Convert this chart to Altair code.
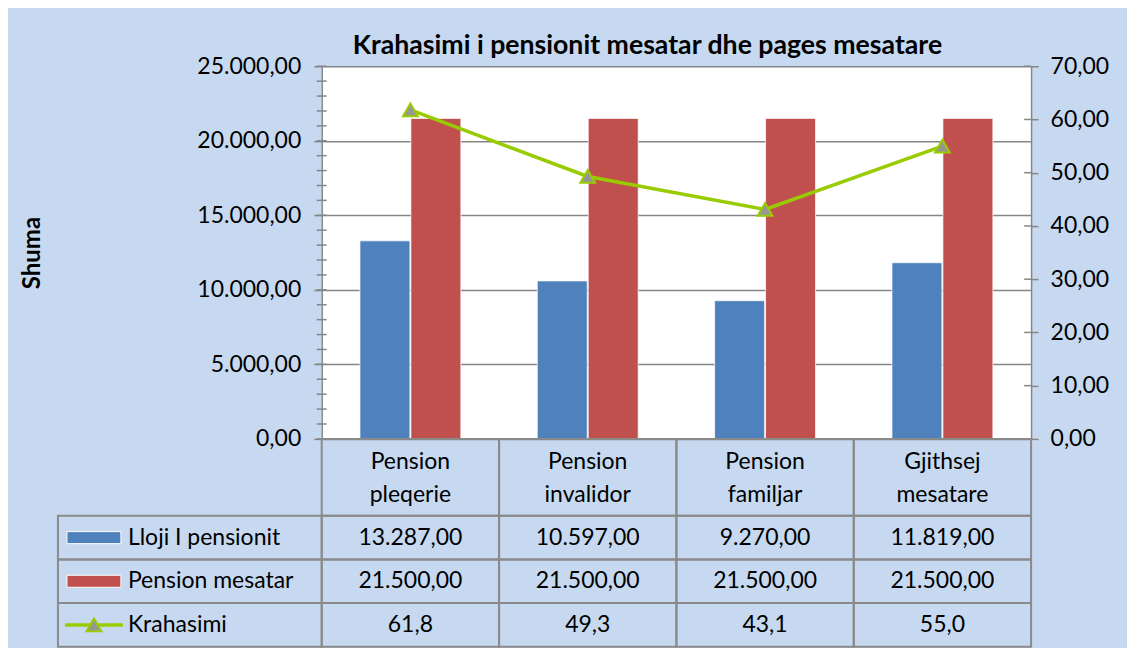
import altair as alt
import pandas as pd

categories = ["Pension pleqerie", "Pension invalidor", "Pension familjar", "Gjithsej mesatare"]
lloji = [13287.00, 10597.00, 9270.00, 11819.00]
mesatar = [21500.00, 21500.00, 21500.00, 21500.00]
krahasimi = [61.8, 49.3, 43.1, 55.0]
series = ["Lloji I pensionit", "Pension mesatar", "Krahasimi"]
decimals = [2, 2, 1]
left_ticks = [0, 5000, 10000, 15000, 20000, 25000]
left_minor = [0, 1000, 2000, 3000, 4000, 5000, 6000, 7000, 8000, 9000, 10000, 11000, 12000,
              13000, 14000, 15000, 16000, 17000, 18000, 19000, 20000, 21000, 22000, 23000, 24000, 25000]
right_ticks = [0, 10, 20, 30, 40, 50, 60, 70]
title_text = "Krahasimi i pensionit mesatar dhe pages mesatare"

BLUE = "#4F81BD"
RED = "#C0504D"
GREEN = "#99CC00"
MARK_GRAY = "#969696"
AX = "#868686"
BORDER = "#8A8A8A"
BG = "#C6D9F1"
FONT = "Lato"
FS = 23

values_by_series = [lloji, mesatar, krahasimi]
rows = []
for s_i, s in enumerate(series):
    for c_i, c in enumerate(categories):
        rows.append({"cat": c, "series": s, "value": values_by_series[s_i][c_i], "dec": decimals[s_i]})
df = pd.DataFrame(rows)

LBL = "replace(replace(replace(format(datum.value, ',.2f'), ',', '_'), '.', ','), '_', '.')"
CELL = ("replace(replace(replace(format(datum.value, datum.dec == 2 ? ',.2f' : ',.1f'), ',', '_'), "
        "'.', ','), '_', '.')")

W = 710
H = 373
LEGW = 264
HDRH = 77
ROWSH = 131

x_enc = alt.X("cat:N", sort=categories, scale=alt.Scale(paddingInner=0, paddingOuter=0), axis=None)

left_axis = alt.Axis(values=left_ticks, labelExpr=LBL, grid=True, gridColor=AX, gridWidth=1.5,
                     domainColor=AX, domainWidth=1.5, tickColor=AX, tickSize=8, tickWidth=1.5,
                     labelFont=FONT, labelFontSize=FS, labelColor="black", labelPadding=13,
                     title="Shuma", titleFont=FONT, titleFontSize=24, titleFontWeight="bold",
                     titleColor="black", titleX=-289, titleBaseline="middle")
right_axis = alt.Axis(orient="right", values=right_ticks, labelExpr=LBL, grid=False,
                      domainColor=AX, domainWidth=1.5, tickColor=AX, tickSize=7, tickWidth=1.5,
                      labelFont=FONT, labelFontSize=FS, labelColor="black", labelPadding=12,
                      title=None)
left_scale = alt.Scale(domain=[0, 25000], nice=False)
right_scale = alt.Scale(domain=[0, 70], nice=False)

bars = alt.Chart(df).transform_filter(
    alt.FieldOneOfPredicate(field="series", oneOf=series[:2])
).mark_bar(stroke="white", strokeWidth=1, strokeOpacity=0.7).encode(
    x=x_enc,
    xOffset=alt.XOffset("series:N", sort=series[:2],
                        scale=alt.Scale(paddingInner=0.02, paddingOuter=0.75)),
    y=alt.Y("value:Q", scale=left_scale, axis=left_axis),
    color=alt.Color("series:N", scale=alt.Scale(domain=series[:2], range=[BLUE, RED]), legend=None),
)

minor = alt.Chart(pd.DataFrame({"value": left_minor})).mark_rule(color=AX, strokeWidth=1.5).encode(
    x=alt.value(-5), x2=alt.value(5), y=alt.Y("value:Q", scale=left_scale, axis=left_axis)
)

kdf = df[df["series"] == series[2]]
line = alt.Chart(kdf).mark_line(color=GREEN, strokeWidth=3.5).encode(
    x=x_enc,
    y=alt.Y("value:Q", scale=right_scale, axis=right_axis),
)
rticks = alt.Chart(pd.DataFrame({"value": right_ticks})).mark_rule(color=AX, strokeWidth=1.5).encode(
    x=alt.value(W - 7), x2=alt.value(W), y=alt.Y("value:Q", scale=right_scale, axis=right_axis)
)
pts = alt.Chart(kdf).mark_point(shape="triangle-up", filled=True, fill=MARK_GRAY, stroke=GREEN,
                                strokeWidth=2, size=220, opacity=1).encode(
    x=x_enc, y=alt.Y("value:Q", scale=right_scale, axis=right_axis)
)

plot = alt.layer(
    alt.layer(bars, minor),
    alt.layer(line, rticks, pts),
).resolve_scale(y="independent").properties(
    width=W, height=H,
    view=alt.ViewBackground(fill="white", stroke=None),
    title=alt.TitleParams(title_text, font=FONT, fontSize=26.7, fontWeight="bold", color="black",
                          anchor="middle", dx=-29, offset=-4, frame="group"),
)

def spacer(w, h):
    return alt.Chart(pd.DataFrame({"a": [0]})).mark_point(opacity=0).encode(
        x=alt.value(0), y=alt.value(0)).properties(width=w, height=h)

hdr_df = pd.DataFrame({"cat": categories})
hdr_rect = alt.Chart(hdr_df).mark_rect(fillOpacity=0, stroke=BORDER, strokeWidth=2).encode(
    x=x_enc, y=alt.value(0), y2=alt.value(HDRH))
hdr_text = alt.Chart(hdr_df).mark_text(lineBreak=" ", font=FONT, fontSize=FS, lineHeight=33,
                                       baseline="middle", color="black").encode(
    x=x_enc, y=alt.value(23), text="cat:N")
hdr = alt.layer(hdr_rect, hdr_text).properties(width=W, height=HDRH)

ry = alt.Y("series:N", sort=series, scale=alt.Scale(paddingInner=0, paddingOuter=0), axis=None)

cells = alt.Chart(df).mark_rect(fillOpacity=0, stroke=BORDER, strokeWidth=2).encode(x=x_enc, y=ry)
cell_txt = alt.Chart(df).transform_calculate(label=CELL).mark_text(
    font=FONT, fontSize=FS, color="black").encode(x=x_enc, y=ry, text="label:N")
table = alt.layer(cells, cell_txt).properties(width=W, height=ROWSH)

leg_df = pd.DataFrame({"series": series})
leg_cells = alt.Chart(leg_df).mark_rect(fillOpacity=0, stroke=BORDER, strokeWidth=2).encode(
    x=alt.value(0), x2=alt.value(LEGW), y=ry)
swatch = alt.Chart(leg_df).transform_filter(
    alt.FieldOneOfPredicate(field="series", oneOf=series[:2])
).mark_bar(height=12, stroke="white", strokeWidth=1).encode(
    x=alt.value(9), x2=alt.value(63), y=ry,
    color=alt.Color("series:N", scale=alt.Scale(domain=series[:2], range=[BLUE, RED]), legend=None))
kleg = leg_df[leg_df["series"] == series[2]]
leg_line = alt.Chart(kleg).mark_rule(color=GREEN, strokeWidth=3.5).encode(
    x=alt.value(7), x2=alt.value(65), y=ry)
leg_pt = alt.Chart(kleg).mark_point(shape="triangle-up", filled=True, fill=MARK_GRAY, stroke=GREEN,
                                    strokeWidth=2, size=220, opacity=1).encode(x=alt.value(36), y=ry)
leg_txt = alt.Chart(leg_df).mark_text(align="left", font=FONT, fontSize=FS, color="black").encode(
    x=alt.value(70), y=ry, text="series:N")
legcol = alt.layer(leg_cells, swatch, leg_line, leg_pt, leg_txt).properties(width=LEGW, height=ROWSH)

chart = alt.concat(
    spacer(LEGW, H), plot,
    spacer(LEGW, HDRH), hdr,
    legcol, table,
    columns=2, spacing=0, bounds="flush",
).properties(
    padding={"left": 13, "top": 24, "right": 18, "bottom": 0}
).configure(background=BG).configure_view(stroke=None)

chart.save("out.html", embed_options={"renderer": "svg", "actions": False})
